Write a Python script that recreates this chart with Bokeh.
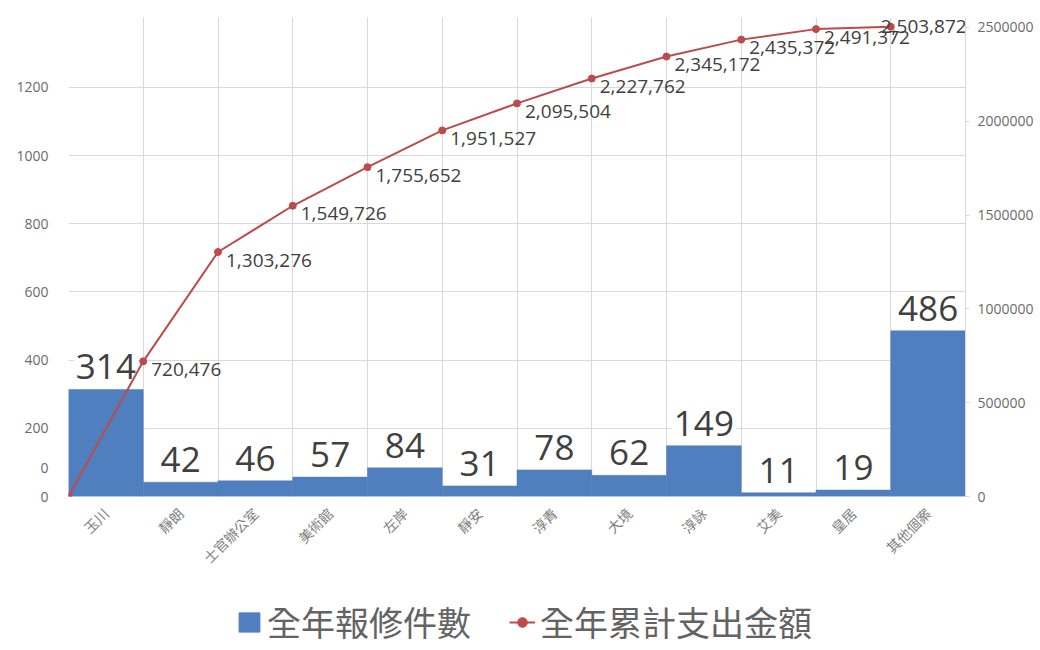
import math
from bokeh.plotting import figure
from bokeh.layouts import column
from bokeh.models import (ColumnDataSource, LinearAxis, Range1d, FixedTicker,
                          NumeralTickFormatter, Legend, LegendItem)
from bokeh.core.properties import value
from bokeh.embed import file_html
from bokeh.resources import INLINE

# ---------------- data ----------------
categories = ["玉川", "靜朗", "士官辦公室", "美術館", "左岸", "靜安",
              "淳青", "大境", "淳詠", "艾美", "皇居", "其他個案"]
repair_counts = [314, 42, 46, 57, 84, 31, 78, 62, 149, 11, 19, 486]
cumulative_spend = [720476, 1303276, 1549726, 1755652, 1951527, 2095504,
                    2227762, 2345172, 2435372, 2491372, 2503872]
left_ticks = [0, 85, 200, 400, 600, 800, 1000, 1200]
left_tick_labels = ["0", "0", "200", "400", "600", "800", "1000", "1200"]
right_ticks = [0, 500000, 1000000, 1500000, 2000000, 2500000]
series_names = ["全年報修件數", "全年累計支出金額"]

BAR = "#4f7fbe"
LINE = "#bd4a4c"
TXT = "#404040"
AX = "#6b6b6b"
CJK = "Noto Sans CJK TC"

n = len(categories)
bar_src = ColumnDataSource(dict(
    x=[i + 0.5 for i in range(n)],
    top=repair_counts,
    label=[str(v) for v in repair_counts],
))
line_vals = [0] + cumulative_spend
line_src = ColumnDataSource(dict(x=list(range(len(line_vals))), y=line_vals))
lab_x = list(range(1, len(cumulative_spend) + 1))
lab_txt = [f"{v:,}" for v in cumulative_spend]
lab_src = ColumnDataSource(dict(x=lab_x[:-1], y=cumulative_spend[:-1],
                                label=lab_txt[:-1]))
last_src = ColumnDataSource(dict(x=lab_x[-1:], y=cumulative_spend[-1:],
                                 label=lab_txt[-1:]))

# frame: x 68..965, y 17..496 (2,500,000 / ~1376 at y=27)
p = figure(width=1040, height=590, output_backend="svg", toolbar_location=None,
           x_range=Range1d(0, n), y_range=Range1d(0, 1405),
           min_border_left=68, min_border_right=75, min_border_top=17,
           min_border_bottom=94)
p.outline_line_color = None
p.extra_y_ranges = {"cum": Range1d(0, 2553300)}

# grids
p.xgrid.ticker = FixedTicker(ticks=list(range(n + 1)))
p.ygrid.ticker = FixedTicker(ticks=[200, 400, 600, 800, 1000, 1200])
p.xgrid.grid_line_color = "#d9d9d9"
p.ygrid.grid_line_color = "#d9d9d9"

# bars
bars = p.vbar(x="x", top="top", width=1.0, bottom=0, source=bar_src,
              fill_color=BAR, line_color=BAR, line_width=0.5)

# bar labels
p.text(x="x", y="top", text="label", source=bar_src,
       text_align="center", text_baseline="bottom", y_offset=-8,
       text_font=value("Open Sans"), text_font_size="35px", text_color=TXT,
       background_fill_color="white", padding=2)

# cumulative line
ln = p.line(x="x", y="y", source=line_src, y_range_name="cum",
            line_color=LINE, line_width=2)
pts = p.scatter(x="x", y="y", source=line_src, y_range_name="cum",
                size=7, fill_color=LINE, line_color=LINE)
p.text(x="x", y="y", text="label", source=lab_src, y_range_name="cum",
       text_align="left", text_baseline="middle", x_offset=8, y_offset=8,
       text_font=value("Open Sans"), text_font_size="19px", text_color=TXT)
p.text(x="x", y="y", text="label", source=last_src, y_range_name="cum",
       text_align="left", text_baseline="middle", x_offset=-10, y_offset=0,
       text_font=value("Open Sans"), text_font_size="19px", text_color=TXT)

# axes
xa = p.xaxis[0]
xa.ticker = FixedTicker(ticks=[i + 0.5 for i in range(n)])
xa.major_label_overrides = {i + 0.5: c for i, c in enumerate(categories)}
xa.major_label_orientation = math.pi / 4
xa.major_label_text_font = CJK
xa.major_label_text_font_size = "14px"
xa.major_label_text_color = "#808080"
xa.axis_line_color = None
xa.major_tick_line_color = None
xa.minor_tick_line_color = None
xa.major_label_standoff = 8

ya = p.yaxis[0]
ya.ticker = FixedTicker(ticks=left_ticks)
ya.major_label_overrides = {t: l for t, l in zip(left_ticks, left_tick_labels)}
ya.major_label_text_font = "Open Sans"
ya.major_label_text_font_size = "14px"
ya.major_label_text_color = AX
ya.axis_line_color = None
ya.major_tick_line_color = None
ya.minor_tick_line_color = None
ya.major_label_standoff = 14

ra = LinearAxis(y_range_name="cum", ticker=FixedTicker(ticks=right_ticks),
                formatter=NumeralTickFormatter(format="0"))
ra.major_label_text_font = "Open Sans"
ra.major_label_text_font_size = "14px"
ra.major_label_text_color = AX
ra.axis_line_color = "#d9d9d9"
ra.major_tick_line_color = "#d9d9d9"
ra.major_tick_out = 4
ra.major_tick_in = 0
ra.minor_tick_line_color = None
ra.major_label_standoff = 8
p.add_layout(ra, "right")

# ---------------- legend strip ----------------
q = figure(width=1040, height=60, output_backend="svg", toolbar_location=None,
           x_range=Range1d(0, 1), y_range=Range1d(0, 1),
           min_border=0, x_axis_type=None, y_axis_type=None)
q.outline_line_color = None
q.xgrid.visible = False
q.ygrid.visible = False
# off-screen stand-ins so that the legend can draw its glyphs
proxy = ColumnDataSource(dict(x=[-5, -4], y=[-5, -5], top=[-4, -4]))
lb = q.vbar(x="x", top="top", bottom="y", width=0.5, source=proxy,
            fill_color=BAR, line_color=BAR)
ll = q.line(x="x", y="y", source=proxy, line_color=LINE, line_width=2)
lp = q.scatter(x="x", y="y", source=proxy, size=6,
               fill_color=LINE, line_color=LINE)

legend = Legend(items=[
    LegendItem(label=series_names[0], renderers=[lb]),
    LegendItem(label=series_names[1], renderers=[ll, lp]),
], orientation="horizontal", location=(168, 4))
legend.label_text_font = CJK
legend.label_text_font_size = "34px"
legend.label_text_color = "#636363"
legend.glyph_width = 26
legend.glyph_height = 24
legend.spacing = 38
legend.label_standoff = 5
legend.border_line_color = None
legend.background_fill_alpha = 0
legend.margin = 0
legend.padding = 4
q.add_layout(legend, "center")

open("out.html", "w").write(file_html(column(p, q, spacing=0), INLINE))
